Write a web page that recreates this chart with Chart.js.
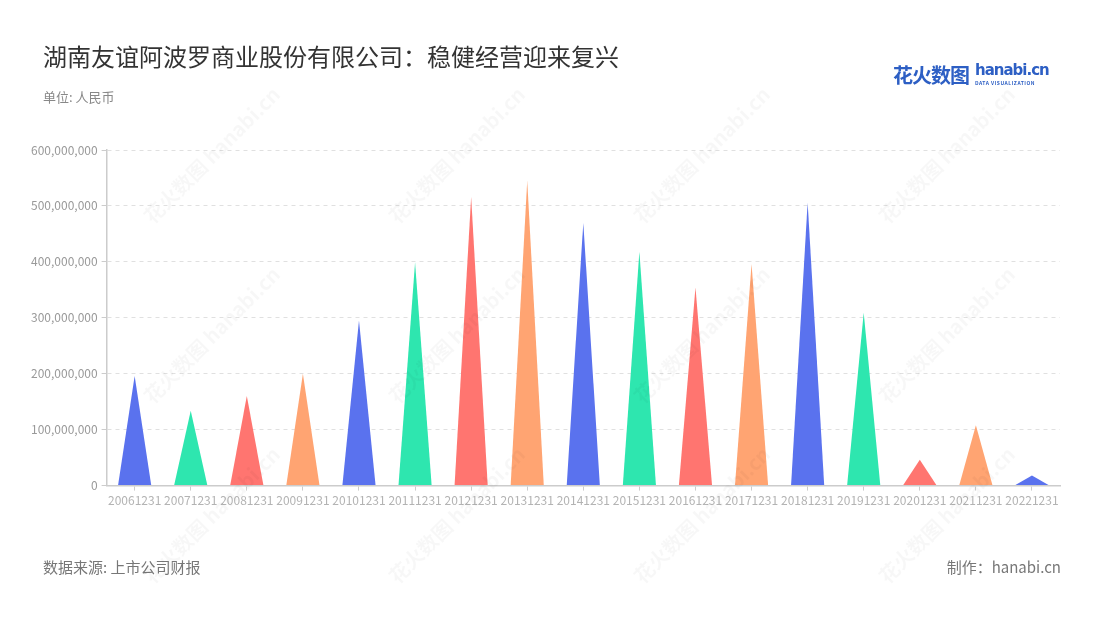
<!DOCTYPE html>
<html>
<head>
<meta charset="utf-8">
<script src="https://cdn.jsdelivr.net/npm/chart.js@4/dist/chart.umd.min.js"></script>
<style>
  body { margin: 0; background: #fff; font-family: "Noto Sans CJK SC", "Noto Sans", sans-serif; }
  #wrap { position: relative; width: 1100px; height: 620px; overflow: hidden; }
  #myChart { position: absolute; left: 0; top: 0; }
  .title { position: absolute; left: 43px; top: 38px; font-size: 24px; color: #333; }
  .unit { position: absolute; left: 43px; top: 87px; font-size: 13px; color: #888; }
  .source { position: absolute; left: 43px; top: 556px; font-size: 15px; color: #777; }
  .maker { position: absolute; right: 39px; top: 556px; font-size: 15px; color: #777; }
  .logo { position: absolute; left: 893px; top: 60px; color: #2d5fc4; }
  .logo .cn { font-size: 20px; font-weight: bold; letter-spacing: -1px; }
  .logo .en { position: absolute; left: 82px; top: 1px; font-size: 15px; font-weight: bold; font-family: "DejaVu Sans", sans-serif; letter-spacing: -1px; }
  .logo .dv { position: absolute; left: 82px; top: 19px; font-size: 5px; font-weight: bold; white-space: nowrap; letter-spacing: 0.5px; }
  .wm { position: absolute; font-size: 20px; color: rgba(0,0,0,0.03); font-weight: bold; transform: rotate(-45deg); white-space: nowrap; pointer-events: none; }
</style>
</head>
<body>
<div id="wrap">
  <canvas id="myChart" width="1100" height="620"></canvas>
  <div class="title">湖南友谊阿波罗商业股份有限公司：稳健经营迎来复兴</div>
  <div class="unit">单位: 人民币</div>
  <div class="source">数据来源: 上市公司财报</div>
  <div class="maker">制作：hanabi.cn</div>
  <div class="logo"><span class="cn">花火数图</span><span class="en">hanabi.cn</span><span class="dv">DATA VISUALIZATION</span></div>
</div>
<script>

var years = ['20061231', '20071231', '20081231', '20091231', '20101231', '20111231',
  '20121231', '20131231', '20141231', '20151231', '20161231', '20171231',
  '20181231', '20191231', '20201231', '20211231', '20221231'];

var values = [196000000, 134000000, 160000000, 200000000, 295000000, 399000000,
  516000000, 545000000, 470000000, 418000000, 354000000, 396000000,
  506000000, 309000000, 46000000, 108000000, 18000000];

var palette = ['#5a72ee', '#2ee6af', '#ff7570', '#ffa472'];

var yTicks = [0, 100000000, 200000000, 300000000, 400000000, 500000000, 600000000];

function addWatermarks() {

  var wrap = document.getElementById('wrap');
  var xs = [120, 365, 610, 855];
  var ys = [140, 320, 500];

  for (var i = 0; i < xs.length; i++) {
    for (var j = 0; j < ys.length; j++) {
      var d = document.createElement('div');
      d.className = 'wm';
      d.style.left = xs[i] + 'px';
      d.style.top = ys[j] + 'px';
      d.textContent = '花火数图 hanabi.cn';
      wrap.appendChild(d);
    }
  }
}

// draws each bar as a triangle from its bar element geometry
var trianglePlugin = {
  id: 'triangles',
  afterDatasetsDraw: function(chart) {
    var ctx = chart.ctx;
    var meta = chart.getDatasetMeta(0);

    ctx.save();
    meta.data.forEach(function(bar, i) {
      var half = bar.width / 2;
      ctx.beginPath();
      ctx.moveTo(bar.x - half, bar.base);
      ctx.lineTo(bar.x, bar.y);
      ctx.lineTo(bar.x + half, bar.base);
      ctx.closePath();
      ctx.fillStyle = palette[i % palette.length];
      ctx.fill();
    });
    ctx.restore();
  }
};

function stampChart() {

  var ctx = document.getElementById('myChart').getContext('2d');
  var chart = new Chart(ctx, {
    type: 'bar',
    data: {
      labels: years,
      datasets: [{
        data: values,
        backgroundColor: 'rgba(0,0,0,0)',
        borderWidth: 0,
        categoryPercentage: 1,
        barPercentage: 0.59
      }]
    },
    options: {
      responsive: false,
      animation: false,
      layout: { padding: { left: 27, right: 40, top: 150, bottom: 109 } },
      plugins: {
        legend: { display: false },
        tooltip: { enabled: false }
      },
      scales: {
        x: {
          grid: { drawOnChartArea: false, offset: false, color: '#cccccc', tickLength: 5 },
          border: { color: '#cccccc', width: 1.5 },
          ticks: {
            autoSkip: false, maxRotation: 0, minRotation: 0, padding: 3,
            color: '#b3b3b3',
            font: { size: 12, family: '"Noto Sans CJK SC", "Noto Sans", sans-serif' }
          }
        },
        y: {
          min: 0,
          max: 600000000,
          afterBuildTicks: function(axis) {
            axis.ticks = yTicks.map(function(v) { return { value: v }; });
          },
          grid: { color: '#e0e0e0', tickLength: 5, tickColor: '#cccccc', tickBorderDash: [] },
          border: { color: '#cccccc', width: 1.5, dash: [4, 4] },
          ticks: {
            padding: 4,
            color: '#999999',
            font: { size: 12, family: '"Noto Sans CJK SC", "Noto Sans", sans-serif' },
            callback: function(v) { return Number(v).toLocaleString('en-US'); }
          }
        }
      }
    },
    plugins: [trianglePlugin]
  });
}

function init() {

  addWatermarks();
  stampChart();
}

init();
</script>
</body>
</html>
